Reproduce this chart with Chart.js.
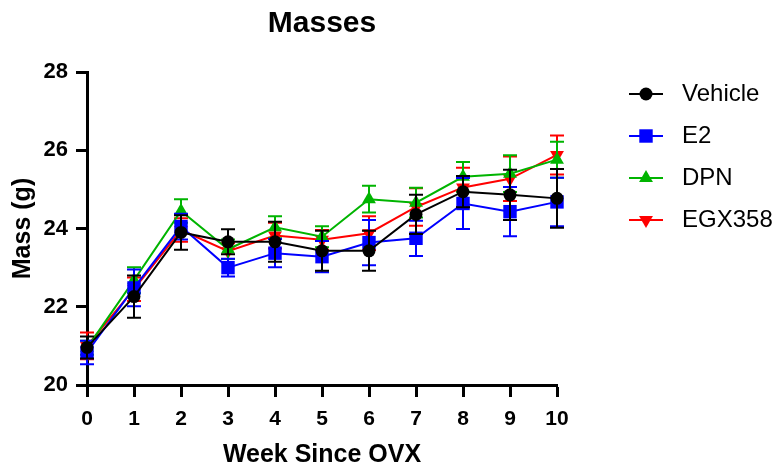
<!DOCTYPE html>
<html lang="en">
<head>
<meta charset="UTF-8">
<title>Masses</title>
<script src="https://cdn.jsdelivr.net/npm/chart.js@4.4.0/dist/chart.umd.min.js"></script>
<style>
    html, body { margin: 0; padding: 0; background: #fff; }
    canvas { display: block; }
</style>
</head>
<body>
<canvas id="massChart" width="782" height="468"></canvas>
<script>
    // Data (mean and SEM per week)
    const weeks = ['0', '1', '2', '3', '4', '5', '6', '7', '8', '9', '10'];
    const groupNames = ['Vehicle', 'E2', 'DPN', 'EGX358'];
    const yTicks = [20, 22, 24, 26, 28];

    const vehicleMean = [20.96, 22.26, 23.90, 23.66, 23.66, 23.43, 23.43, 24.36, 24.94, 24.86, 24.77];
    const vehicleSem  = [0.28, 0.54, 0.44, 0.32, 0.51, 0.51, 0.51, 0.50, 0.40, 0.64, 0.75];
    const e2Mean      = [20.83, 22.48, 24.05, 23.00, 23.37, 23.28, 23.64, 23.75, 24.64, 24.43, 24.68];
    const e2Sem       = [0.30, 0.47, 0.33, 0.23, 0.36, 0.40, 0.58, 0.45, 0.65, 0.63, 0.62];
    const dpnMean     = [20.95, 22.68, 24.45, 23.47, 24.03, 23.79, 24.75, 24.66, 25.32, 25.40, 25.76];
    const dpnSem      = [0.18, 0.33, 0.30, 0.25, 0.28, 0.27, 0.34, 0.38, 0.38, 0.47, 0.46];
    const egxMean     = [21.00, 22.45, 23.96, 23.42, 23.82, 23.71, 23.88, 24.55, 25.05, 25.27, 25.88];
    const egxSem      = [0.34, 0.30, 0.30, 0.20, 0.33, 0.25, 0.43, 0.48, 0.50, 0.57, 0.50];

    const FONT = "'Liberation Sans', Arial, sans-serif";
    const sems = [vehicleSem, e2Sem, dpnSem, egxSem];

    const styles = [
        { color: '#000000', pointStyle: 'circle',   radius: 6.5, rotation: 0 },
        { color: '#0000ff', pointStyle: 'rect',     radius: 9.5, rotation: 0 },
        { color: '#00b400', pointStyle: 'triangle', radius: 8,   rotation: 0 },
        { color: '#ff0000', pointStyle: 'triangle', radius: 8,   rotation: 180 }
    ];

    // legend swatch: short line with the marker, offset inside a wide box
    function legendIcon(s) {
        const c = document.createElement('canvas');
        c.width = 95;
        c.height = 24;
        const g = c.getContext('2d');
        g.strokeStyle = s.color;
        g.fillStyle = s.color;
        g.lineWidth = 2;
        g.beginPath();
        g.moveTo(54, 12);
        g.lineTo(88, 12);
        g.stroke();
        Chart.helpers.drawPoint(g, {
            pointStyle: s.pointStyle, radius: s.radius, rotation: s.rotation, borderWidth: 0
        }, 71, 12);
        return c;
    }

    // error bars are drawn just before each dataset's line and markers
    const errorBars = {
        id: 'errorBars',
        beforeDatasetDraw(chart, args) {
            const ctx = chart.ctx;
            const yScale = chart.scales.y;
            const ds = chart.data.datasets[args.index];
            const sem = sems[args.index];
            ctx.save();
            ctx.strokeStyle = ds.borderColor;
            ctx.lineWidth = 2;
            args.meta.data.forEach((pt, i) => {
                const top = yScale.getPixelForValue(ds.data[i] + sem[i]);
                const bot = yScale.getPixelForValue(ds.data[i] - sem[i]);
                ctx.beginPath();
                ctx.moveTo(pt.x, top);
                ctx.lineTo(pt.x, bot);
                ctx.moveTo(pt.x - 7, top);
                ctx.lineTo(pt.x + 7, top);
                ctx.moveTo(pt.x - 7, bot);
                ctx.lineTo(pt.x + 7, bot);
                ctx.stroke();
            });
            ctx.restore();
        }
    };

    const means = [vehicleMean, e2Mean, dpnMean, egxMean];
    const datasets = means.map((m, i) => ({
        label: groupNames[i],
        data: m,
        borderColor: styles[i].color,
        backgroundColor: styles[i].color,
        borderWidth: 2,
        pointStyle: styles[i].pointStyle,
        pointRadius: styles[i].radius,
        pointRotation: styles[i].rotation,
        pointBorderWidth: 0,
        tension: 0,
        clip: false
    }));

    new Chart(document.getElementById('massChart'), {
        type: 'line',
        data: { labels: weeks, datasets: datasets },
        plugins: [errorBars],
        options: {
            responsive: false,
            animation: false,
            layout: { padding: 0 },
            plugins: {
                tooltip: { enabled: false },
                title: {
                    display: true,
                    text: 'Masses',
                    fullSize: false,
                    color: '#000',
                    font: { family: FONT, size: 30, weight: 'bold' },
                    padding: { top: 6, bottom: 30 }
                },
                legend: {
                    position: 'right',
                    align: 'start',
                    maxWidth: 225,
                    title: {
                        display: true,
                        text: '',
                        font: { size: 10, lineHeight: 1 },
                        padding: { top: 54, bottom: 0 }
                    },
                    labels: {
                        usePointStyle: true,
                        pointStyleWidth: 95,
                        padding: 18,
                        color: '#000',
                        font: { family: FONT, size: 24 },
                        generateLabels(chart) {
                            return chart.data.datasets.map((ds, i) => ({
                                text: ds.label,
                                fontColor: '#000',
                                fillStyle: ds.borderColor,
                                strokeStyle: ds.borderColor,
                                lineWidth: 0,
                                pointStyle: legendIcon(styles[i]),
                                datasetIndex: i,
                                hidden: false
                            }));
                        }
                    }
                }
            },
            scales: {
                x: {
                    type: 'category',
                    offset: false,
                    afterFit(scale) { scale.height = 83; },
                    grid: {
                        drawOnChartArea: false,
                        drawTicks: true,
                        tickLength: 12,
                        tickWidth: 3,
                        tickColor: '#000'
                    },
                    border: { display: true, width: 3, color: '#000' },
                    ticks: {
                        color: '#000',
                        padding: 10,
                        maxRotation: 0,
                        font: { family: FONT, size: 21, weight: 'bold' }
                    },
                    title: {
                        display: true,
                        text: 'Week Since OVX',
                        color: '#000',
                        font: { family: FONT, size: 25, weight: 'bold', lineHeight: 1 },
                        padding: { top: 4, bottom: 0 }
                    }
                },
                y: {
                    min: yTicks[0],
                    max: yTicks[yTicks.length - 1],
                    afterBuildTicks(scale) {
                        scale.ticks = yTicks.map(v => ({ value: v }));
                    },
                    afterFit(scale) { scale.width = 87; },
                    grid: {
                        drawOnChartArea: false,
                        drawTicks: true,
                        tickLength: 11,
                        tickWidth: 3,
                        tickColor: '#000'
                    },
                    border: { display: true, width: 3, color: '#000' },
                    ticks: {
                        color: '#000',
                        padding: 8,
                        font: { family: FONT, size: 22, weight: 'bold' }
                    },
                    title: {
                        display: true,
                        text: 'Mass (g)',
                        color: '#000',
                        font: { family: FONT, size: 25, weight: 'bold' },
                        padding: { top: 8, bottom: 5 }
                    }
                }
            }
        }
    });
</script>
</body>
</html>
